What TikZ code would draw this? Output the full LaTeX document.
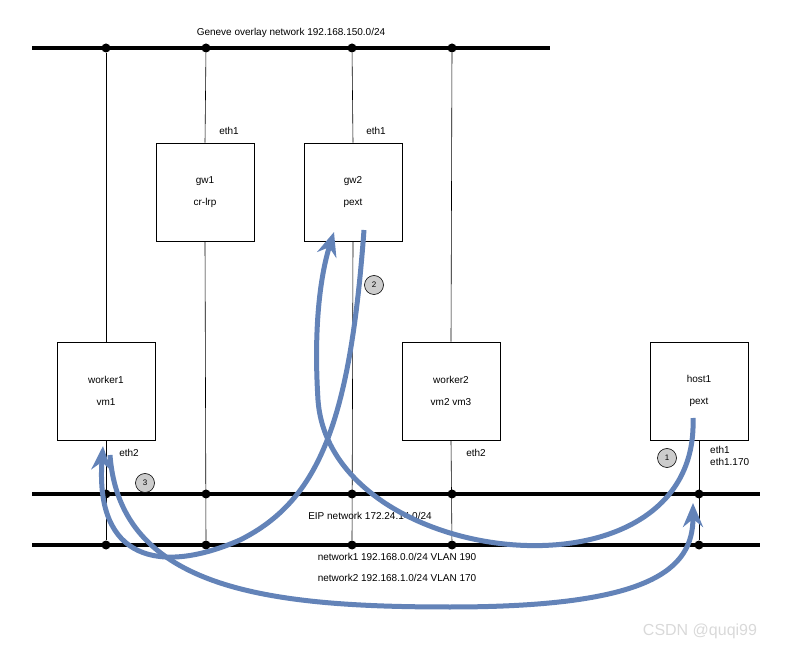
\documentclass[tikz,border=0pt]{standalone}
\usepackage{fontspec}
\setmainfont{Liberation Sans}
\usetikzlibrary{arrows.meta}
\definecolor{flow}{HTML}{6383B8}
\begin{document}
\begin{tikzpicture}[x=1pt,y=-1pt,
  bus/.style={line width=4pt},
  wire/.style={line width=0.6pt},
  box/.style={draw,line width=0.6pt,minimum width=98pt,minimum height=98pt,inner sep=0pt,align=center,font=\fontsize{10}{22}\selectfont},
  dot/.style={circle,fill=black,inner sep=0pt,minimum size=9pt},
  lbl/.style={font=\fontsize{10}{12}\selectfont,inner sep=1pt},
  num/.style={circle,draw,fill=black!20,line width=0.6pt,minimum size=19pt,inner sep=0pt,font=\fontsize{8}{8}\selectfont},
  arr/.style={draw=flow,line width=5pt,-{Stealth[length=24pt,width=20pt,inset=8pt]}}]
\useasboundingbox (0,0) rectangle (788,660);
% buses
\coordinate (g0) at (32,48); \coordinate (g1) at (550,48);
\coordinate (e0) at (32,494); \coordinate (e1) at (760,494);
\coordinate (n0) at (32,545); \coordinate (n1) at (760,545);
\draw[bus] (g0) -- (g1);
\draw[bus] (e0) -- (e1);
\draw[bus] (n0) -- (n1);
\node[lbl] (gt) at (291,33) {Geneve overlay network 192.168.150.0/24};
% boxes
\node[box] (gw1) at (205,192) {gw1\\cr-lrp};
\node[box] (gw2) at (353,192) {gw2\\pext};
\node[box] (w1) at (106,391) {worker1\\vm1};
\node[box] (w2) at (451,391) {worker2\\vm2 vm3};
\node[box] (h1) at (699,391) {host1\\pext};
% dots
\foreach \n/\x in {a/106,b/206,c/352,d/452}{\node[dot] (G\n) at (\x,48) {};}
\foreach \n/\x in {a/106,b/206,c/352,d/452,e/699}{\node[dot] (E\n) at (\x,494) {}; \node[dot] (N\n) at (\x,545) {};}
% wires
\draw[wire] (Ga) -- (w1.north);
\draw[wire] (Gb) -- (gw1.north);
\draw[wire] (Gc) -- (gw2.north);
\draw[wire] (Gd) -- (w2.north);
\draw[wire] (w1.south) -- (Na);
\draw[wire] (gw1.south) -- (Nb);
\draw[wire] (gw2.south) -- (Nc);
\draw[wire] (w2.south) -- (Nd);
\draw[wire] (h1.south) -- (Ne);
% labels
\node[lbl] (l1) at (229,131) {eth1};
\node[lbl] (l2) at (376,131) {eth1};
\node[lbl] (l3) at (129,453) {eth2};
\node[lbl] (l4) at (476,453) {eth2};
\node[lbl,align=left,anchor=west] (l5) at (709,456) {eth1\\eth1.170};
\node[lbl] (et) at (370,516) {EIP network 172.24.14.0/24};
\node[lbl] (v1) at (397,557) {network1 192.168.0.0/24 VLAN 190};
\node[lbl] (v2) at (397,578) {network2 192.168.1.0/24 VLAN 170};
% flows
\coordinate (s1) at (693,418); \coordinate (t1) at (334,232);
\coordinate (s2) at (364,230); \coordinate (t2) at (103,446);
\coordinate (s3) at (110,455); \coordinate (t3) at (693,503);
\draw[arr] (s1) .. controls (700,610) and (330,570) .. (318,400) .. controls (313,320) and (322,270) .. (t1);
\draw[arr] (s2) .. controls (350,420) and (320,500) .. (240,540) .. controls (160,575) and (95,560) .. (t2);
\draw[arr] (s3) .. controls (120,590) and (270,607) .. (450,607) .. controls (650,607) and (693,570) .. (t3);
\node[num] (c1) at (667,458) {1};
\node[num] (c2) at (374,285) {2};
\node[num] (c3) at (145,483) {3};
\node[lbl,text=black!15,font=\fontsize{16}{16}\selectfont] (wm) at (700,631) {CSDN @quqi99};
\end{tikzpicture}
\end{document}
